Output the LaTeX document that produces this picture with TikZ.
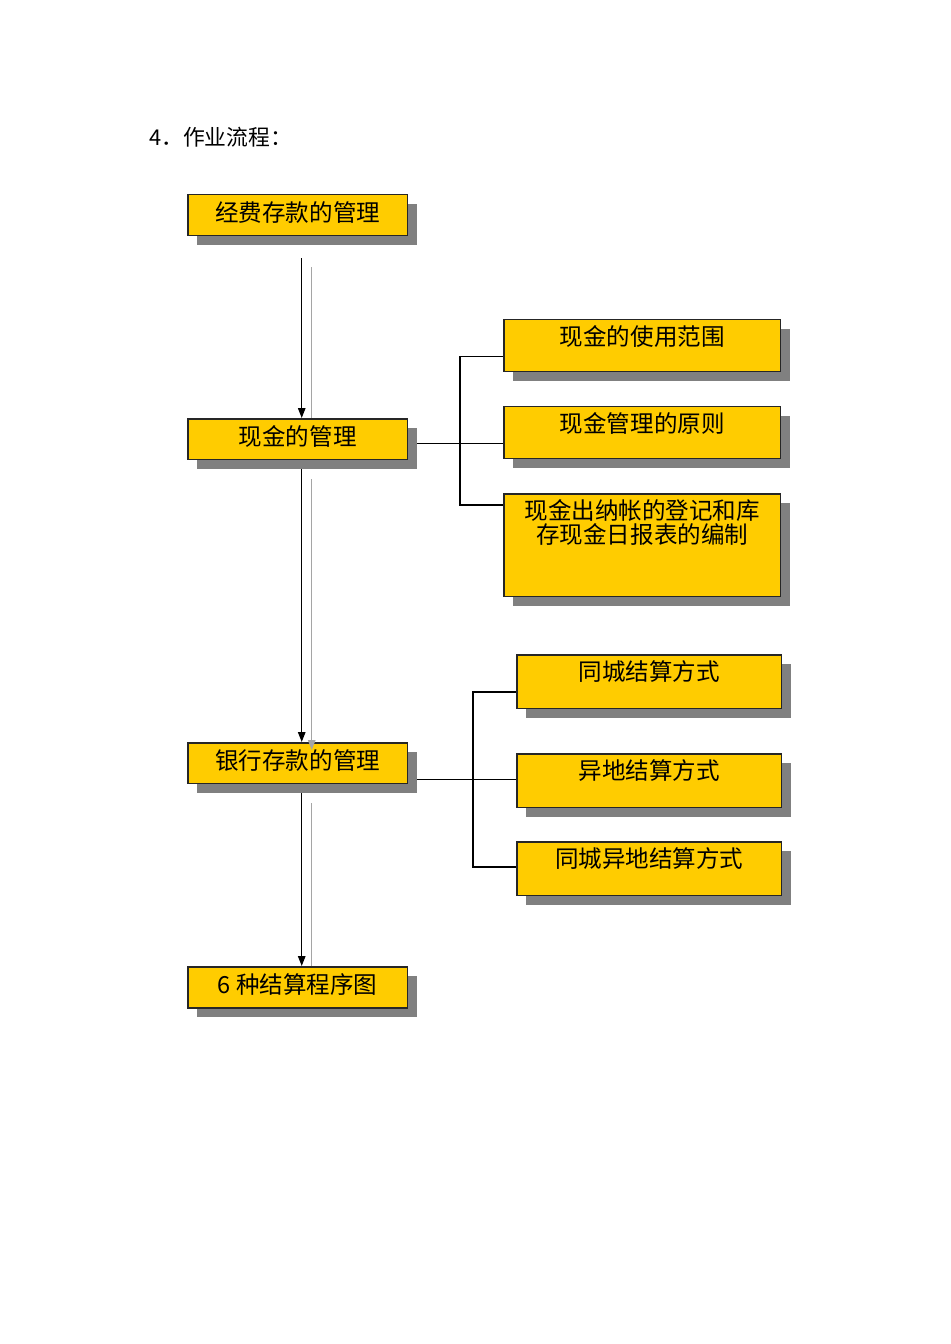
\documentclass[tikz,border=0pt]{standalone}
\usepackage{fontspec}
\setmainfont{Noto Sans CJK SC}
\usetikzlibrary{positioning,shadows,backgrounds,arrows.meta}
\definecolor{boxgold}{RGB}{255,204,0}
\definecolor{boxshadow}{RGB}{128,128,128}
\definecolor{lineshadow}{RGB}{165,165,165}
\begin{document}
\begin{tikzpicture}[x=0.02cm,y=-0.02cm,
                    main box/.style={draw=black!85,line width=0.03cm,fill=boxgold,anchor=north west,
                      inner sep=0pt,align=center,font=\fontsize{13.4}{12.5}\selectfont,
                      drop shadow={shadow xshift=0.19cm,shadow yshift=-0.19cm,fill=boxshadow,opacity=1}},
                    left box/.style={main box,minimum width=4.4cm,text height=0.54cm,text depth=0.28cm},
                    cash box/.style={main box,minimum width=5.54cm,text width=5.5cm,text height=0.52cm,text depth=0.52cm},
                    bank box/.style={main box,minimum width=5.3cm,text width=5.26cm,text height=0.52cm,text depth=0.56cm},
                    link/.style={black,line width=0.025cm},
                    flow/.style={link,-{Triangle[length=0.2cm,width=0.15cm]}},
                    flow shadow/.style={lineshadow,line width=0.025cm}
                   ]
  \useasboundingbox (0,0) rectangle (950,1344);
  \node[anchor=west,font=\fontsize{12.4}{15}\selectfont] (title) at (143,137) {4．作业流程：};

  % left column
  \node[left box] (b1) at (187,194) {经费存款的管理};
  \node[left box] (b2) at (187,418) {现金的管理};
  \node[left box] (b3) at (187,742) {银行存款的管理};
  \node[left box] (b4) at (187,966) {6 种结算程序图};

  % cash branch
  \node[cash box] (r1) at (503,319) {现金的使用范围};
  \node[cash box] (r2) at (503,406) {现金管理的原则};
  \node[cash box,text depth=1.54cm,font=\fontsize{13.4}{11.5}\selectfont] (r3) at (503,493)
       {现金出纳帐的登记和库\\存现金日报表的编制};

  % bank branch
  \node[bank box] (s1) at (516,654) {同城结算方式};
  \node[bank box] (s2) at (516,753) {异地结算方式};
  \node[bank box] (s3) at (516,841) {同城异地结算方式};

  \begin{scope}[on background layer]
    \draw[flow shadow] ([xshift=0.28cm,yshift=-0.62cm]b1.south) -- ([xshift=0.28cm]b2.north);
    \draw[flow shadow] ([xshift=0.28cm,yshift=-0.38cm]b3.south) -- ([xshift=0.28cm]b4.north);
    \draw[flow] ([xshift=0.08cm,yshift=-0.44cm]b1.south) -- ([xshift=0.08cm]b2.north);
    \draw[flow] ([xshift=0.08cm]b2.south) -- ([xshift=0.08cm]b3.north);
    \draw[flow] ([xshift=0.08cm]b3.south) -- ([xshift=0.08cm]b4.north);

    \draw[link] ([yshift=-0.09cm]b2.east) -- ([yshift=-0.09cm]b2.east -| r2.west);
    \draw[link] ([yshift=-0.22cm]r1.west) -- ++(-43,0) |- ([yshift=-0.24cm]r3.north west);

    \draw[link] ([yshift=-0.33cm]b3.east) -- ([yshift=-0.33cm]b3.east -| s2.west);
    \draw[link] ([yshift=-0.76cm]s1.north west) -- ++(-43,0) |- ([yshift=-0.52cm]s3.north west);
  \end{scope}
  \draw[flow shadow,-{Triangle[length=0.2cm,width=0.15cm]}] ([xshift=0.28cm,yshift=-0.38cm]b2.south) -- ([xshift=0.28cm,yshift=-0.16cm]b3.north);
\end{tikzpicture}
\end{document}
